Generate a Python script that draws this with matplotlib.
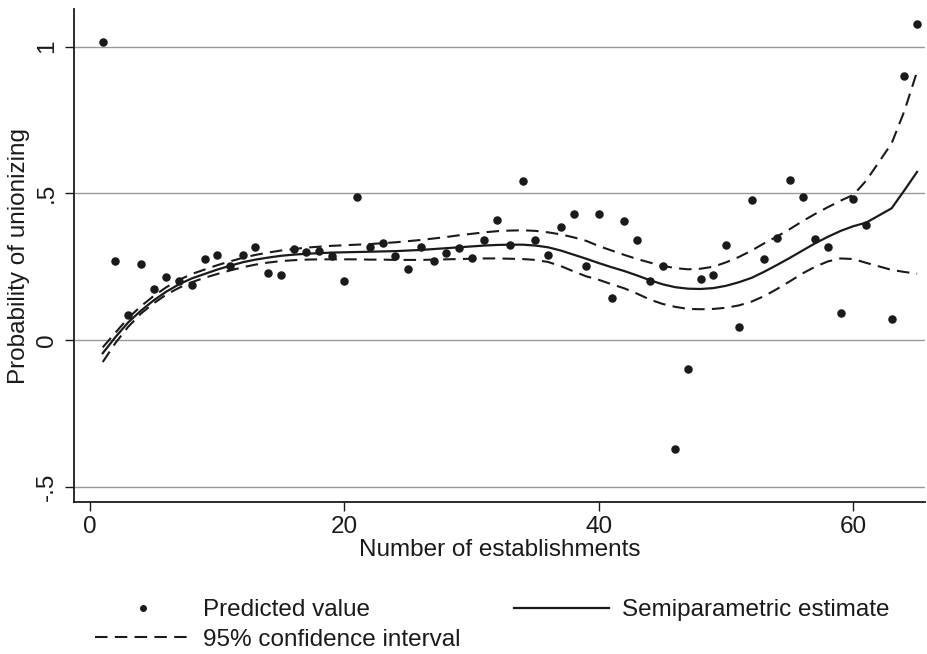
import matplotlib.pyplot as plt
from matplotlib.lines import Line2D

plt.rcParams['font.family'] = ['Liberation Sans', 'DejaVu Sans']

# establishments (no observation at 62)
x = [1, 2, 3, 4, 5, 6, 7, 8, 9, 10, 11, 12, 13, 14, 15, 16, 17, 18, 19, 20,
     21, 22, 23, 24, 25, 26, 27, 28, 29, 30, 31, 32, 33, 34, 35, 36, 37, 38, 39, 40,
     41, 42, 43, 44, 45, 46, 47, 48, 49, 50, 51, 52, 53, 54, 55, 56, 57, 58, 59, 60,
     61, 63, 64, 65]

predicted = [1.017, 0.269, 0.086, 0.258, 0.173, 0.216, 0.202, 0.187, 0.276, 0.290,
             0.253, 0.290, 0.316, 0.227, 0.222, 0.310, 0.299, 0.303, 0.286, 0.202,
             0.486, 0.317, 0.330, 0.288, 0.242, 0.316, 0.268, 0.295, 0.315, 0.281,
             0.341, 0.408, 0.325, 0.543, 0.341, 0.291, 0.386, 0.430, 0.252, 0.430,
             0.144, 0.406, 0.340, 0.200, 0.253, -0.370, -0.100, 0.209, 0.222, 0.325,
             0.044, 0.477, 0.276, 0.349, 0.547, 0.486, 0.343, 0.316, 0.093, 0.482,
             0.392, 0.073, 0.900, 1.077]

estimate = [-0.045, 0.010, 0.060, 0.100, 0.135, 0.165, 0.190, 0.210, 0.225, 0.240,
            0.253, 0.265, 0.274, 0.281, 0.287, 0.291, 0.294, 0.296, 0.298, 0.299,
            0.300, 0.301, 0.302, 0.303, 0.305, 0.307, 0.310, 0.313, 0.316, 0.319,
            0.322, 0.324, 0.325, 0.325, 0.322, 0.316, 0.305, 0.291, 0.277, 0.262,
            0.248, 0.235, 0.220, 0.204, 0.190, 0.180, 0.175, 0.174, 0.177, 0.185,
            0.197, 0.212, 0.233, 0.256, 0.280, 0.305, 0.330, 0.352, 0.372, 0.388,
            0.400, 0.449, 0.510, 0.573]

upper = [-0.025, 0.025, 0.075, 0.115, 0.150, 0.180, 0.205, 0.225, 0.240, 0.255,
         0.268, 0.280, 0.290, 0.298, 0.305, 0.310, 0.315, 0.318, 0.321, 0.323,
         0.325, 0.327, 0.330, 0.333, 0.337, 0.341, 0.346, 0.351, 0.357, 0.362,
         0.367, 0.371, 0.373, 0.374, 0.372, 0.367, 0.360, 0.350, 0.338, 0.320,
         0.305, 0.290, 0.276, 0.264, 0.253, 0.245, 0.241, 0.243, 0.250, 0.265,
         0.283, 0.305, 0.330, 0.353, 0.378, 0.405, 0.430, 0.453, 0.475, 0.495,
         0.543, 0.670, 0.780, 0.915]

lower = [-0.075, -0.010, 0.045, 0.090, 0.125, 0.155, 0.178, 0.197, 0.212, 0.225,
         0.237, 0.248, 0.257, 0.264, 0.269, 0.272, 0.274, 0.275, 0.275, 0.275,
         0.275, 0.274, 0.274, 0.273, 0.273, 0.273, 0.274, 0.275, 0.276, 0.277,
         0.278, 0.278, 0.277, 0.276, 0.273, 0.266, 0.252, 0.234, 0.217, 0.205,
         0.190, 0.176, 0.158, 0.138, 0.123, 0.113, 0.106, 0.105, 0.106, 0.110,
         0.118, 0.131, 0.150, 0.174, 0.200, 0.227, 0.250, 0.268, 0.278, 0.276,
         0.263, 0.239, 0.232, 0.226]

yticks = [-0.5, 0, 0.5, 1]
ytick_labels = ['-.5', '0', '.5', '1']
xticks = [0, 20, 40, 60]

ink = '#1a1a1a'
fs = 17.5
fig = plt.figure(figsize=(9.28, 6.54), dpi=100)
ax = fig.add_axes([0.0797, 0.2324, 0.9173, 0.7538])

for yt in yticks:
    ax.axhline(yt, color='#999999', lw=1.0, zorder=0)

ax.scatter(x, predicted, s=26, color=ink, zorder=3)
ax.plot(x, estimate, color=ink, lw=1.6, zorder=2)
ax.plot(x, upper, color=ink, lw=1.5, dashes=(6, 3.5), zorder=2)
ax.plot(x, lower, color=ink, lw=1.5, dashes=(6, 3.5), zorder=2)

ax.set_xlim(-1.26, 65.64)
ax.set_ylim(-0.552, 1.128)
ax.set_xticks(xticks)
ax.set_yticks(yticks)
ax.set_yticklabels(ytick_labels, rotation=90, va='center')
ax.tick_params(direction='out', length=6.5, width=1, colors=ink, labelsize=fs)
ax.tick_params(axis='y', pad=5)
for s in ['top', 'right']:
    ax.spines[s].set_visible(False)
for s in ['left', 'bottom']:
    ax.spines[s].set_color(ink)
    ax.spines[s].set_linewidth(1.3)

ax.set_xlabel('Number of establishments', fontsize=fs, color=ink, labelpad=1)
ax.set_ylabel('Probability of unionizing', fontsize=fs, color=ink, labelpad=4)

h_pred = Line2D([], [], ls='none', marker='o', markersize=4, color=ink)
h_est = Line2D([], [], color=ink, lw=1.6)
h_ci = Line2D([], [], color=ink, lw=1.5, dashes=(6, 3.5))
fig.legend([h_pred, h_ci, h_est],
           ['Predicted value', '95% confidence interval', 'Semiparametric estimate'],
           ncol=2, loc='upper left', bbox_to_anchor=(0.079, 0.117),
           frameon=False, fontsize=fs, handlelength=3.9, handletextpad=0.55,
           columnspacing=2.2, labelspacing=0.3, labelcolor=ink)

fig.savefig('out.png', dpi=100)
